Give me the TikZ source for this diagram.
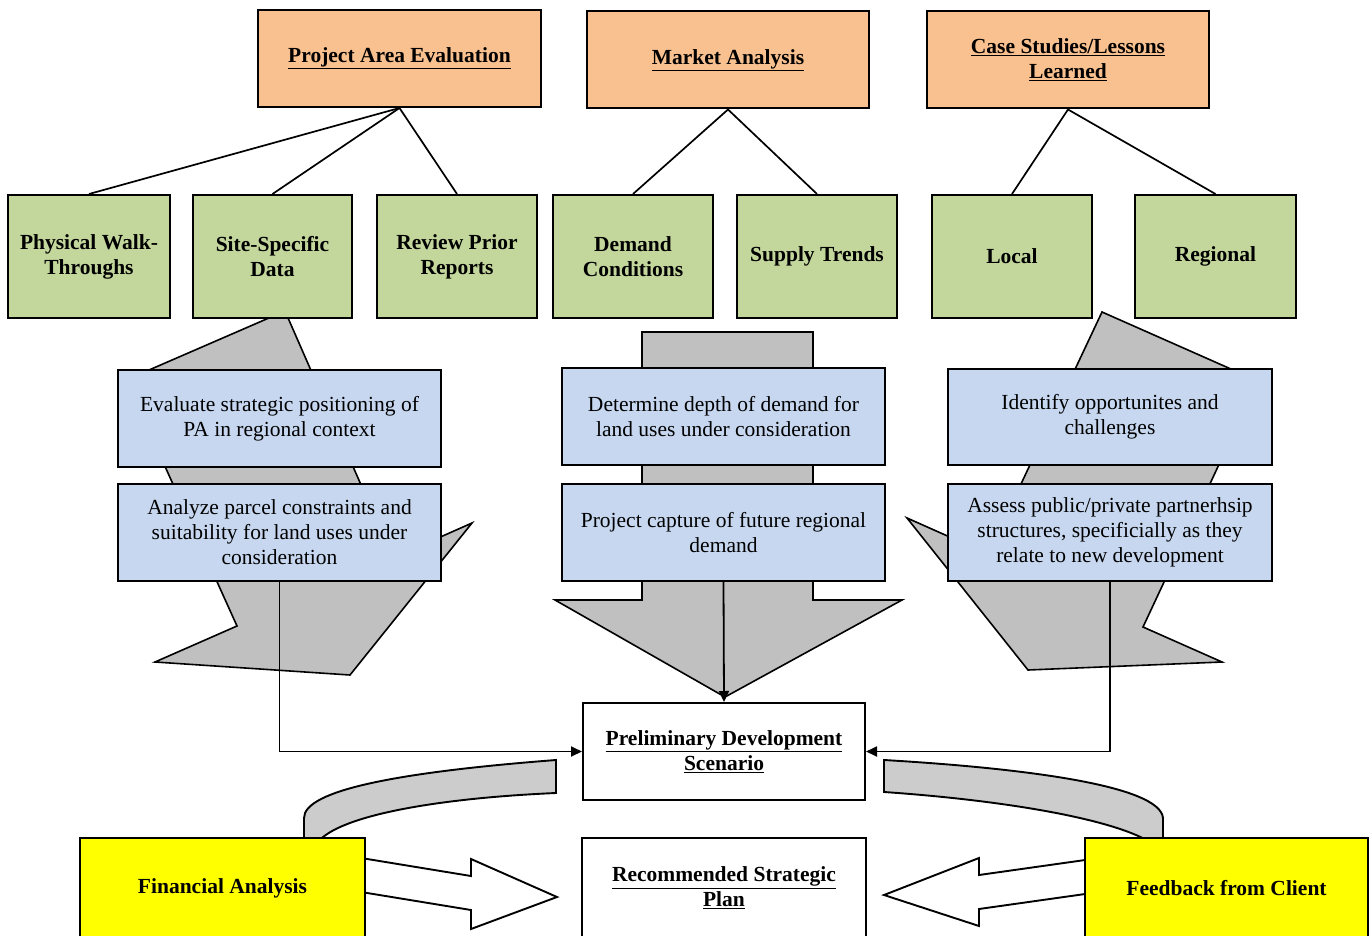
\documentclass[tikz,border=0pt]{standalone}
\usepackage{fontspec}
\setmainfont{Liberation Serif}
\usetikzlibrary{arrows.meta}
\definecolor{orangeF}{RGB}{249,193,143}
\definecolor{greenF}{RGB}{195,214,155}
\definecolor{blueF}{RGB}{198,215,239}
\definecolor{grayF}{RGB}{192,192,192}
\definecolor{bandF}{RGB}{204,204,204}
\definecolor{yellowF}{RGB}{255,255,0}
\newcommand\bfs{\fontsize{21.5}{25}\selectfont\bfseries}
\newcommand\rgs{\fontsize{21.5}{25}\selectfont}
\newcommand\ul[1]{\underline{#1}}
\begin{document}
\begin{tikzpicture}[x=1pt,y=-1pt,
  box/.style={draw=black, line width=2pt, inner sep=2pt, align=center, text=black},
  obox/.style={box, fill=orangeF, minimum height=97pt, font=\bfs},
  gbox/.style={box, fill=greenF, minimum height=123pt, minimum width=160pt, font=\bfs},
  bbox/.style={box, fill=blueF, minimum height=97pt, minimum width=323pt, font=\rgs},
  wbox/.style={box, fill=white, font=\bfs},
  ybox/.style={box, fill=yellowF, minimum height=100pt, font=\bfs},
  tree/.style={draw=black, line width=1.7pt},
  conn/.style={draw=black, line width=1.8pt, -{Triangle[length=11pt,width=10pt]}},
  bigarrow/.style={draw=black, line width=1.6pt, fill=grayF, line join=miter},
  band/.style={draw=black, line width=1.9pt, fill=bandF},
  warrow/.style={draw=black, line width=1.9pt, fill=white}
]
\useasboundingbox (0,0) rectangle (1370,936);

% gray block arrows
\draw[bigarrow] (126,380) -- (285,311) -- (393,558) -- (472,523) -- (350,675) -- (155,662) -- (237,626) -- cycle;
\draw[bigarrow] (642,332) -- (813,332) -- (813,600) -- (902,600) -- (725,697) -- (555,600) -- (642,600) -- cycle;
\draw[bigarrow] (1102,312) -- (988,554) -- (907,518) -- (1028,670) -- (1222,662) -- (1143,627) -- (1258,381) -- cycle;

% top boxes
\node[obox, minimum width=283pt] (pae) at (399.5,58.5) {\ul{Project Area Evaluation}};
\node[obox, minimum width=282pt] (mkt) at (728,60) {\ul{Market Analysis}};
\node[obox, minimum width=282pt] (cs) at (1068,60) {\ul{Case Studies/Lessons}\\\ul{Learned}};

% green boxes
\node[gbox, minimum width=162pt] (phy) at (89,256.5) {Physical Walk-\\Throughs};
\node[gbox, minimum width=159pt] (site) at (272.5,256.5) {Site-Specific\\Data};
\node[gbox] (rev) at (457,256.5) {Review Prior\\Reports};
\node[gbox] (dem) at (633,256.5) {Demand\\Conditions};
\node[gbox] (sup) at (817,256.5) {Supply Trends};
\node[gbox] (loc) at (1012,256.5) {Local};
\node[gbox, minimum width=161pt] (reg) at (1215.5,256.5) {Regional};

% tree lines
\draw[tree] (pae.south) -- (phy.north);
\draw[tree] (pae.south) -- (site.north);
\draw[tree] (pae.south) -- (rev.north);
\draw[tree] (mkt.south) -- (dem.north);
\draw[tree] (mkt.south) -- (sup.north);
\draw[tree] (cs.south) -- (loc.north);
\draw[tree] (cs.south) -- (reg.north);

% blue boxes
\node[bbox] (bl1) at (279.5,418.5) {Evaluate strategic positioning of\\PA in regional context};
\node[bbox] (bl2) at (279.5,532.5) {Analyze parcel constraints and\\suitability for land uses under\\consideration};
\node[bbox] (bm1) at (723.5,416.5) {Determine depth of demand for\\land uses under consideration};
\node[bbox] (bm2) at (723.5,532.5) {Project capture of future regional\\demand};
\node[bbox, minimum width=324pt, minimum height=96pt] (br1) at (1110,417) {Identify opportunites and\\challenges};
\node[bbox, minimum width=324pt] (br2) at (1110,532.5) {Assess public/private partnerhsip\\structures, specificially as they\\relate to new development};

% bottom boxes
\node[wbox, minimum width=282pt, minimum height=97pt] (prelim) at (724,751.5) {\ul{Preliminary Development}\\\ul{Scenario}};
\node[wbox, minimum width=284pt, minimum height=100pt] (rec) at (724,888) {\ul{Recommended Strategic}\\\ul{Plan}};

% connectors
\draw[conn] (bl2.south) |- (prelim.west);
\draw[conn] (br2.south) |- (prelim.east);
\draw[conn] (bm2.south) -- (prelim.north);

% curved bands
\draw[band] (304,842) -- (304,818) .. controls (304,790) and (400,772) .. (556,760) -- (556,793) .. controls (440,798) and (340,815) .. (318,842) -- cycle;
\draw[band] (884,760) .. controls (1020,768) and (1160,785) .. (1163,818) -- (1163,842) -- (1150,842) .. controls (1110,818) and (1000,800) .. (884,792) -- cycle;

% white arrows
\draw[warrow] (355,857) -- (471,876) -- (471,859) -- (557,897) -- (471,929) -- (471,910) -- (355,891) -- cycle;
\draw[warrow] (1095,858.6) -- (979,875) -- (979,858) -- (884,895) -- (979,926) -- (979,909) -- (1095,892.6) -- cycle;

% yellow boxes
\node[ybox, minimum width=285pt] (fin) at (222.5,888) {Financial Analysis};
\node[ybox, minimum width=283pt] (fb) at (1226.5,888) {Feedback from Client};
\end{tikzpicture}
\end{document}
